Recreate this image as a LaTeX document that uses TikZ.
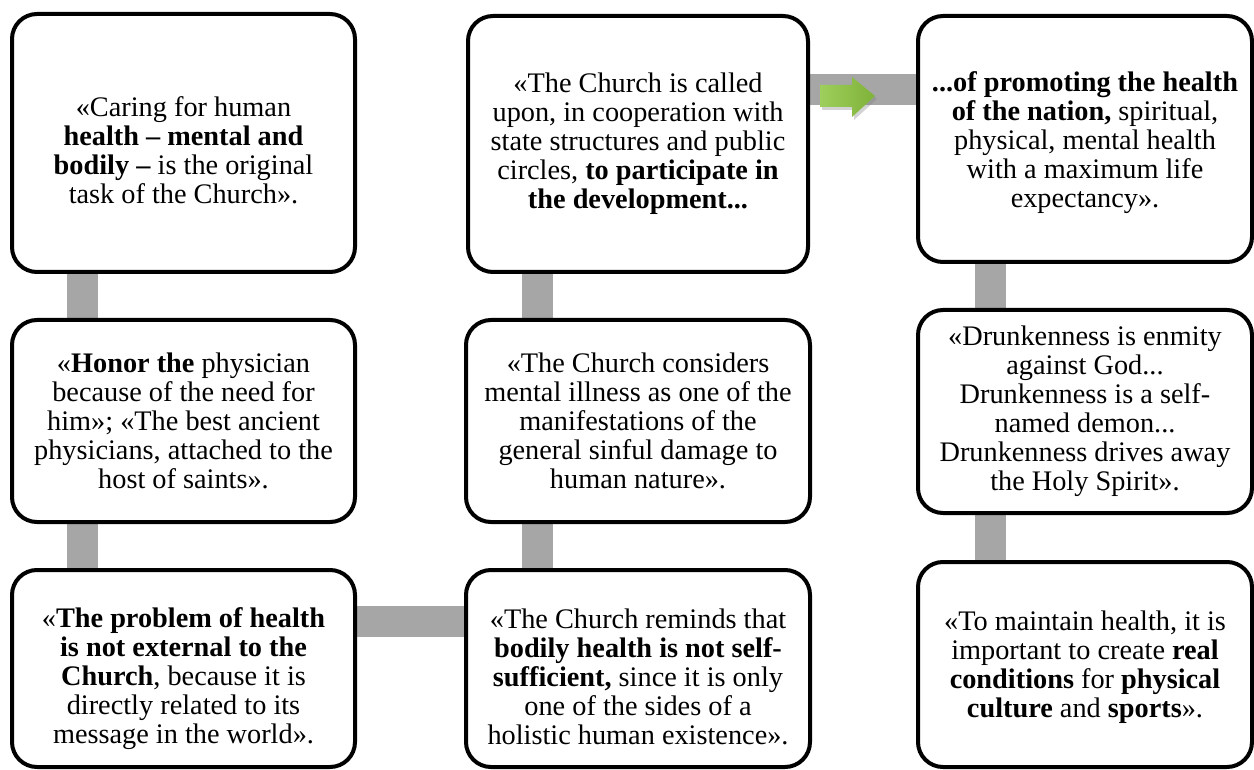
\documentclass[tikz,border=0pt]{standalone}
\usepackage{fontspec}
\setmainfont{Liberation Serif}
\usetikzlibrary{backgrounds,shadows}
\definecolor{conngray}{HTML}{A6A6A6}
\definecolor{arrowgreen}{HTML}{8DC63F}
\begin{document}
\begin{tikzpicture}[x=1pt,y=-1pt,
  box/.style={draw=black, line width=4pt, rounded corners=25pt, fill=white, inner sep=0pt},
  txt/.style={align=center, font=\fontsize{28.3}{29}\selectfont, inner sep=0pt},
  conn/.style={draw=conngray, line width=31pt}]
\useasboundingbox (0,0) rectangle (1254,770);

% boxes
\node[box, minimum width=343pt, minimum height=258pt] (b1) at (183.5,143) {};
\node[box, minimum width=343pt, minimum height=202pt] (b2) at (183.5,421) {};
\node[box, minimum width=343pt, minimum height=197pt] (b3) at (183.5,668.5) {};
\node[box, minimum width=340pt, minimum height=256pt] (b4) at (638,144) {};
\node[box, minimum width=344pt, minimum height=202pt] (b5) at (638,421) {};
\node[box, minimum width=344pt, minimum height=197pt] (b6) at (638,668.5) {};
\node[box, minimum width=334pt, minimum height=246pt] (b7) at (1085,139) {};
\node[box, minimum width=334pt, minimum height=203pt] (b8) at (1085,411.5) {};
\node[box, minimum width=334pt, minimum height=205pt] (b9) at (1085,664.5) {};

% texts
\node[txt] (t1) at ([yshift=-7pt]b1.center) {«Caring for human\\\textbf{health – mental and}\\\textbf{bodily –} is the original\\task of the Church».};
\node[txt] (t2) at (b2.center) {«\textbf{Honor the} physician\\because of the need for\\him»; «The best ancient\\physicians, attached to the\\host of saints».};
\node[txt] (t3) at ([yshift=-10pt]b3.center) {«\textbf{The problem of health}\\\textbf{is not external to the}\\\textbf{Church}, because it is\\directly related to its\\message in the world».};
\node[txt] (t4) at (b4.center) {«The Church is called\\upon, in cooperation with\\state structures and public\\circles, \textbf{to participate in}\\\textbf{the development...}};
\node[txt] (t5) at (b5.center) {«The Church considers\\mental illness as one of the\\manifestations of the\\general sinful damage to\\human nature».};
\node[txt] (t6) at ([yshift=-8pt]b6.center) {«The Church reminds that\\\textbf{bodily health is not self-}\\\textbf{sufficient,} since it is only\\one of the sides of a\\holistic human existence».};
\node[txt] (t7) at ([yshift=-4pt]b7.center) {\textbf{...of promoting the health}\\\textbf{of the nation,} spiritual,\\physical, mental health\\with a maximum life\\expectancy».};
\node[txt] (t8) at (b8.center) {«Drunkenness is enmity\\against God...\\Drunkenness is a self-\\named demon...\\Drunkenness drives away\\the Holy Spirit».};
\node[txt] (t9) at ([yshift=-3pt]b9.center) {«To maintain health, it is\\important to create \textbf{real}\\\textbf{conditions} for \textbf{physical}\\\textbf{culture} and \textbf{sports}».};

% connectors
\begin{scope}[on background layer]
  \coordinate (cl) at (82.5,0);
  \coordinate (cm) at (537,0);
  \coordinate (cr) at (990.5,0);
  \coordinate (ct) at (0,90);
  \coordinate (cb) at (0,621);
  \draw[conn] (b1.center -| cl) -- (b2.center -| cl);
  \draw[conn] (b2.center -| cl) -- (b3.center -| cl);
  \draw[conn] (b3.center |- cb) -- (b6.center |- cb);
  \draw[conn] (b6.center -| cm) -- (b5.center -| cm);
  \draw[conn] (b5.center -| cm) -- (b4.center -| cm);
  \draw[conn] (b4.center |- ct) -- (b7.center |- ct);
  \draw[conn] (b7.center -| cr) -- (b8.center -| cr);
  \draw[conn] (b8.center -| cr) -- (b9.center -| cr);
\end{scope}

% green arrow
\path[left color=arrowgreen!85!white, right color=arrowgreen!90!black,
      drop shadow={opacity=0.35, shadow xshift=2pt, shadow yshift=-3pt}]
  (820,85) -- (852,85) -- (852,77) -- (875,96) -- (852,117) -- (852,107) -- (820,107) -- cycle;
\end{tikzpicture}
\end{document}
